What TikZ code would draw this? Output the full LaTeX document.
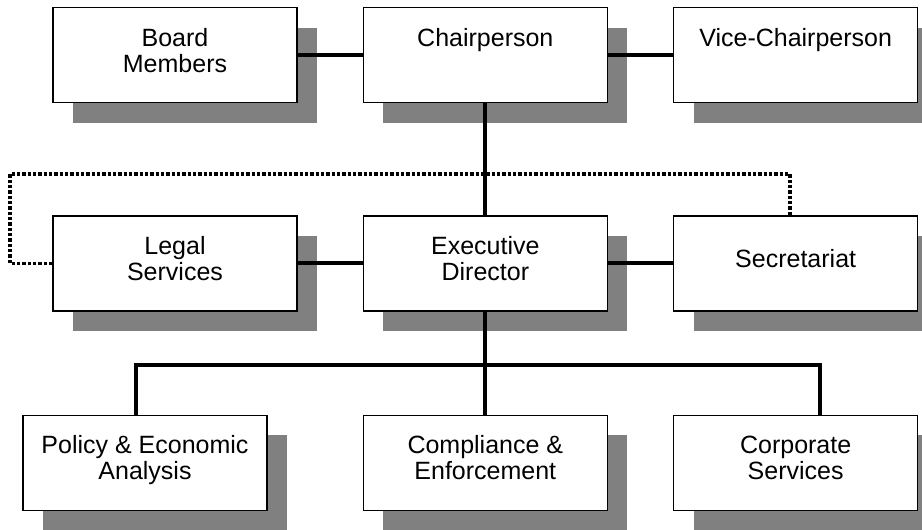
\documentclass[tikz,border=0pt]{standalone}
\usepackage{fontspec}
\setmainfont{Liberation Sans}
\usetikzlibrary{positioning, shadows}

\begin{document}
\begin{tikzpicture}[x=0.75pt, y=-0.75pt,
		box/.style={draw, line width=1pt, fill=white, minimum width=183pt, minimum height=71.25pt, inner sep=0pt, align=center, font=\fontsize{18.75}{19.5}\selectfont, drop shadow={shadow xshift=15pt, shadow yshift=-15pt, fill=black!50, opacity=1}},
		link/.style={line width=3pt},
		dotlink/.style={line width=2.6pt, dash pattern=on 2.6pt off 1.4pt}]
		
		\clip (0,0) rectangle (922,529);
		
		\node (board) [box] at (175,55) {Board\\Members\\[-12pt]\mbox{}};
		\node (chair) [box, right=48.75pt of board] {Chairperson\\\phantom{M}\\[-12pt]\mbox{}};
		\node (vice) [box, right=48.75pt of chair] {Vice-Chairperson\\\phantom{M}\\[-12pt]\mbox{}};
		\node (legal) [box, below=84pt of board] {Legal\\Services\\[-12pt]\mbox{}};
		\node (exec) [box, below=84pt of chair] {Executive\\Director\\[-12pt]\mbox{}};
		\node (sec) [box, below=84pt of vice] {Secretariat\\[-12pt]\mbox{}};
		\node (comp) [box, below=77.25pt of exec] {Compliance \&\\Enforcement\\[-12pt]\mbox{}};
		\node (policy) [box, left=71.25pt of comp] {Policy \& Economic\\Analysis\\[-12pt]\mbox{}};
		\node (corp) [box, right=48.75pt of comp] {Corporate\\Services\\[-12pt]\mbox{}};
		
		\coordinate (busL) at (136,365);
		\coordinate (busR) at (820,365);
		\coordinate (dotL) at (10,174);
		\coordinate (dotR) at (790,174);
		
		\path[link]
		(board) edge (chair)
		(chair) edge (vice)
		(chair) edge (exec)
		(legal) edge (exec)
		(exec) edge (sec);
		
		\draw[link] (exec.south) -- (exec.south |- comp.north);
		\draw[link] (policy.north -| busL) -- (busL) -- (busR) -- (corp.north -| busR);
		
		\draw[dotlink] (legal.west) -- (legal.west -| dotL) -- (dotL) -- (dotR) -- (dotR |- sec.north);
		
\end{tikzpicture}
\end{document}
